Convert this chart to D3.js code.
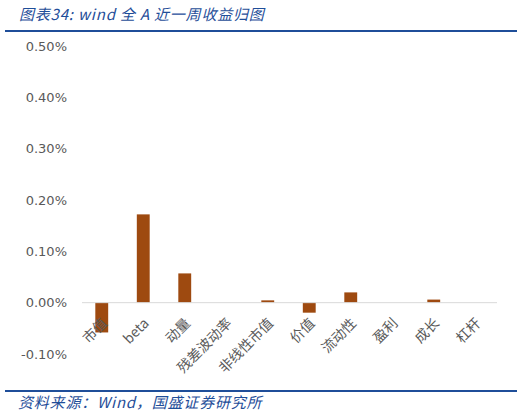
<!DOCTYPE html>
<html><head><meta charset="utf-8">
<script src="https://cdn.jsdelivr.net/npm/d3@7/dist/d3.min.js"></script>
<style>body{margin:0;background:#fff}</style>
</head><body>
<svg id="c" width="526" height="416"></svg>
<script>
const categories = ["市值","beta","动量","残差波动率","非线性市值","价值","流动性","盈利","成长","杠杆"];
const values = [-0.058, 0.172, 0.057, 0.0, 0.0045, -0.0195, 0.020, 0.0, 0.006, 0.0];
const yTicks = [-0.1, 0.0, 0.1, 0.2, 0.3, 0.4, 0.5];
const titleText = "图表34:  wind 全 A 近一周收益归图";
const sourceText = "资料来源：Wind，国盛证券研究所";

const svg = d3.select("#c");
const blue = "#1F4E99";
const x = d3.scaleBand().domain(categories).range([81, 496]).paddingInner(0.69).paddingOuter(0.345);
const y = d3.scaleLinear().domain([-0.1, 0.5]).range([354, 46]);

// title
svg.append("text").attr("x", 19).attr("y", 20).attr("fill", blue)
  .attr("font-family", "'Noto Sans CJK SC', sans-serif").attr("font-size", 15)
  .attr("letter-spacing", 0.8)
  .attr("font-style", "italic").text(titleText);
svg.append("rect").attr("x", 5).attr("y", 30).attr("width", 512).attr("height", 2).attr("fill", blue);

// y axis labels
const yAxis = d3.axisLeft(y).tickValues(yTicks).tickSize(0).tickPadding(0)
  .tickFormat(d => d3.format(".2f")(d).replace("−", "-") + "%");
const ya = svg.append("g").attr("transform", "translate(67,0)").call(yAxis);
ya.select(".domain").remove();
ya.selectAll("text").attr("font-family", "'DejaVu Sans', sans-serif").attr("font-size", 13).attr("fill", "#595959");

// bars
svg.append("g").selectAll("rect").data(categories).join("rect")
  .attr("x", d => x(d))
  .attr("width", x.bandwidth())
  .attr("y", (d, i) => Math.min(y(values[i]), y(0)))
  .attr("height", (d, i) => Math.abs(y(values[i]) - y(0)))
  .attr("fill", "#9E4A10");

// zero line
svg.append("line").attr("x1", 82).attr("x2", 497).attr("y1", y(0)).attr("y2", y(0))
  .attr("stroke", "#D9D9D9").attr("stroke-width", 1);

// x labels
const xAxis = d3.axisBottom(x).tickSize(0).tickPadding(0);
const xa = svg.append("g").attr("transform", `translate(0,${y(0)})`).call(xAxis);
xa.select(".domain").remove();
xa.selectAll("text")
  .attr("font-family", "'Noto Sans CJK SC', sans-serif").attr("font-size", 14).attr("fill", "#595959")
  .attr("text-anchor", "end").attr("dy", "0.35em")
  .attr("transform", "translate(3,18) rotate(-45)");

// footer
svg.append("rect").attr("x", 5).attr("y", 390).attr("width", 512).attr("height", 2).attr("fill", blue);
svg.append("text").attr("x", 18).attr("y", 408).attr("fill", blue)
  .attr("font-family", "'Noto Sans CJK SC', sans-serif").attr("font-size", 15)
  .attr("letter-spacing", 0.8)
  .attr("font-style", "italic").text(sourceText);
</script>
</body></html>
